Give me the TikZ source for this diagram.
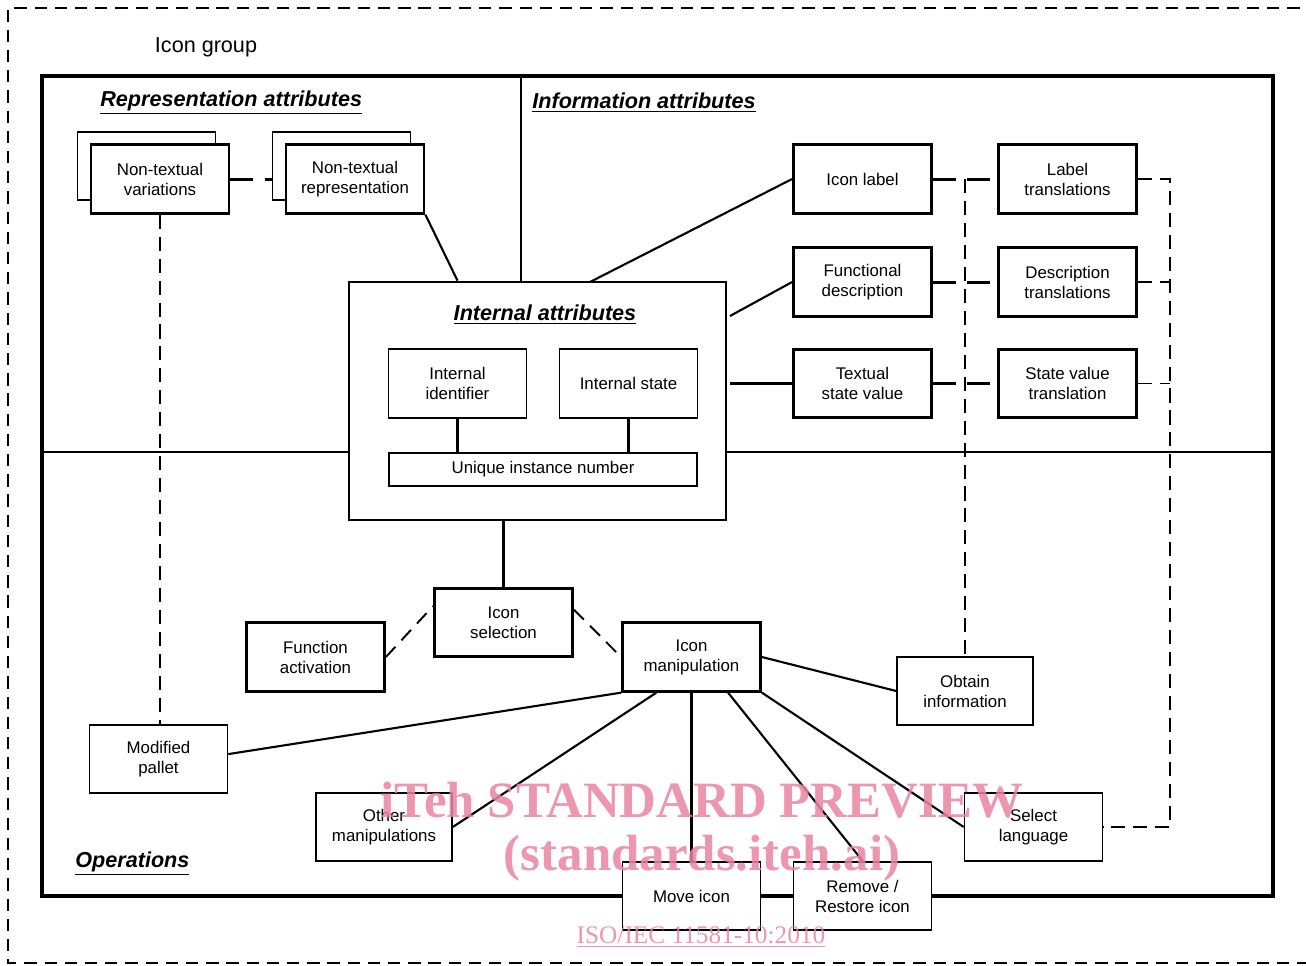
\documentclass[tikz,border=0pt]{standalone}
\usepackage{fontspec}
\setmainfont{Liberation Sans}
\newfontfamily\wmfont{Liberation Serif}
\usetikzlibrary{calc}

\definecolor{wmpink}{RGB}{234,132,162}

\tikzset{
  bbox/.style={draw, line width=1.6pt, fill=white, minimum width=2.76cm, minimum height=1.37cm, inner sep=0pt, align=center, font=\fontsize{9.6}{11.4}\selectfont},
  mbox/.style={bbox, line width=1.1pt},
  tbox/.style={bbox, line width=0.9pt},
  ttl/.style={inner sep=0pt, font=\fontsize{12.3}{14}\selectfont\bfseries\itshape},
  link/.style={line width=1.2pt},
  heavydash/.style={line width=1.7pt, dash pattern=on 13pt off 6.5pt},
  lightdash/.style={line width=1.1pt, dash pattern=on 8pt off 4.5pt},
  wmark/.style={text=wmpink, text opacity=0.85, inner sep=0pt},
}

\begin{document}
\begin{tikzpicture}[x=0.02cm, y=-0.02cm]
		%%%%% START %%%%%
		\useasboundingbox (0,0) rectangle (1306,965);
		
		\draw[line width=0.9pt, dash pattern=on 7pt off 4.5pt] (1340,8) -- (8,8) -- (8,963) -- (1340,963);
		\node[inner sep=0pt, font=\fontsize{12.3}{14}\selectfont] (grplbl) at (206,47) {Icon group};
		
		\node[draw, line width=2pt, minimum width=24.62cm, minimum height=16.4cm, inner sep=0pt] (grp) at (657.5,486) {};
		\coordinate (divtop) at (521,76);
		
		\node[ttl, anchor=west] (reptl) at (100,103) {\underline{Representation attributes}};
		\node[ttl, anchor=west] (inftl) at (532,103) {\underline{Information attributes}};
		\node[ttl, anchor=west] (opstl) at (75,864) {\underline{Operations}};
		
		% representation
		\node[tbox] (nvarb) at (146.5,166) {};
		\node[bbox] (nvar) at (160,179) {Non-textual\\variations};
		\node[tbox] (nrepb) at (341.5,166) {};
		\node[bbox] (nrep) at (355,179) {Non-textual\\representation};
		
		% internal
		\node[bbox, minimum width=7.54cm, minimum height=4.76cm] (intattr) at (537.5,401) {};
		\node[ttl] (inttl) at (545,315) {\underline{Internal attributes}};
		\node[tbox] (intid) at (457.5,383.5) {Internal\\identifier};
		\node[tbox] (intst) at (628.5,383.5) {Internal state};
		\node[tbox, minimum width=6.16cm, minimum height=0.66cm] (uniq) at (543,469.5) {Unique instance number};
		
		% information
		\node[bbox] (iconlbl) at (862.5,179) {Icon label};
		\node[bbox] (funcdesc) at (862.5,282) {Functional\\description};
		\node[bbox] (txtstate) at (862.5,383.5) {Textual\\state value};
		\node[bbox] (lbltr) at (1067.5,179) {Label\\translations};
		\node[bbox] (desctr) at (1067.5,282) {Description\\translations};
		\node[bbox] (statetr) at (1067.5,383.5) {State value\\translation};
		
		% operations
		\node[bbox] (iconsel) at (503.5,622.5) {Icon\\selection};
		\node[bbox] (funcact) at (315.5,657) {Function\\activation};
		\node[bbox] (iconman) at (691.5,657) {Icon\\manipulation};
		\node[tbox, minimum width=2.72cm] (obtain) at (965,691) {Obtain\\information};
		\node[tbox] (modpal) at (158.5,759) {Modified\\pallet};
		\node[tbox, minimum width=2.72cm] (othman) at (384,827) {Other\\manipulations};
		\node[mbox] (moveic) at (691.5,896) {Move icon};
		\node[mbox] (remic) at (862.5,896) {Remove /\\Restore icon};
		\node[tbox] (sellang) at (1033.5,827) {Select\\language};
		
		\coordinate (iaone) at (590,282);
		\coordinate (iatwo) at (730,316);
		\coordinate (iathree) at (730,383.5);
		\coordinate (rbus) at (1170,179);
		
		% dividers
		\draw[link] (divtop) -- (divtop |- intattr.north);
		\draw[link] (grp.west |- uniq.north) -- (intattr.west |- uniq.north);
		\draw[link] (intattr.east |- uniq.north) -- (grp.east |- uniq.north);
		
		\draw[link] (intid.south) -- (intid.south |- uniq.north);
		\draw[link] (intst.south) -- (intst.south |- uniq.north);
		
		\draw[heavydash] (nvar.east) -- (nvar.east -| nrepb.west);
		\draw[link] (nrep.south east) -- (intid.north |- intattr.north);
		\draw[lightdash] (nvar.south) -- (nvar.south |- modpal.north);
		
		\draw[link] (iaone) -- (iconlbl.west);
		\draw[link] (iatwo) -- (funcdesc.west);
		\draw[link] (iathree) -- (txtstate.west);
		
		\draw[heavydash] (iconlbl.east) -- (lbltr.west);
		\draw[heavydash] (funcdesc.east) -- (desctr.west);
		\draw[heavydash] (txtstate.east) -- (statetr.west);
		\draw[lightdash] (obtain.north |- iconlbl.east) -- (obtain.north);
		
		\draw[lightdash] (lbltr.east) -- (rbus) -- (rbus |- sellang.east) -- (sellang.east);
		\draw[lightdash] (desctr.east) -- (rbus |- desctr.east);
		\draw[lightdash] (statetr.east) -- (rbus |- statetr.east);
		
		\draw[link] (iconsel.north |- intattr.south) -- (iconsel.north);
		\draw[line width=1.1pt, dash pattern=on 8pt off 5pt] (funcact.east) -- ($(iconsel.north west)!0.27!(iconsel.south west)$);
		\draw[line width=1.1pt, dash pattern=on 8pt off 5pt] ($(iconsel.north east)!0.32!(iconsel.south east)$) -- (iconman.west);
		
		\draw[link] (iconman.east) -- (obtain.west);
		\draw[link] (iconman.south west) -- ($(modpal.north east)!0.43!(modpal.south east)$);
		\draw[link] ($(iconman.south west)!0.25!(iconman.south east)$) -- (othman.east);
		\draw[link] (iconman.south) -- (moveic.north);
		\draw[link] ($(iconman.south west)!0.76!(iconman.south east)$) -- (remic.north);
		\draw[link] (iconman.south east) -- (sellang.west);
		
		% watermark
		\node[wmark, font=\wmfont\fontsize{29}{34}\selectfont\bfseries] (wmone) at (702,800) {iTeh STANDARD PREVIEW};
		\node[wmark, font=\wmfont\fontsize{29}{34}\selectfont\bfseries] (wmtwo) at (702,858) {(standards.iteh.ai)};
		\node[wmark, font=\wmfont\fontsize{14.4}{16}\selectfont] (wmthree) at (701,937) {\underline{ISO/IEC 11581-10:2010}};
		
		%%%%% END %%%%%
	\end{tikzpicture}
\end{document}
